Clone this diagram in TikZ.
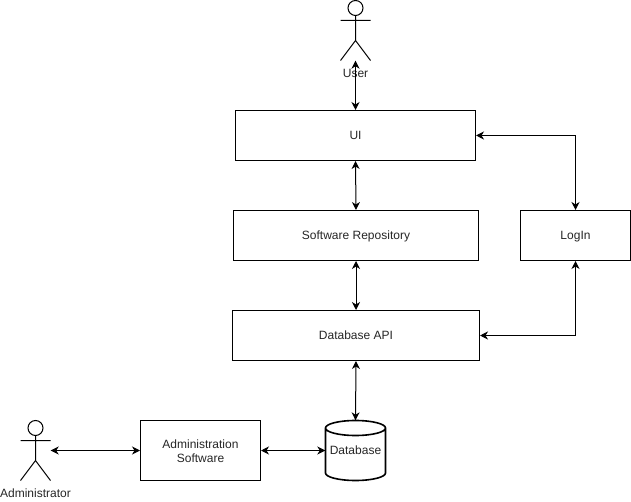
\documentclass[tikz,border=0pt]{standalone}
\usepackage{fontspec}
\setmainfont{Liberation Sans}
\usetikzlibrary{arrows.meta}
\tikzset{
  x=1pt,y=-1pt,
  boxnode/.style={draw=black,line width=1pt,rectangle,inner sep=0pt,align=center,font=\fontsize{12}{14}\selectfont,fill=white,text=black!85},
  oneline/.style={execute at begin node={\rule[-2.6pt]{0pt}{13.4pt}}},
  labelnode/.style={font=\fontsize{12}{14}\selectfont,text=black!85,inner sep=0pt},
  actorbox/.style={rectangle,minimum width=30pt,minimum height=60pt,inner sep=0pt},
  actorline/.style={draw=black,line width=1pt},
  cylline/.style={draw=black,line width=1.6pt},
  link/.style={draw=black,line width=1pt,{Stealth[length=8pt,width=8pt,inset=2.5pt]}-{Stealth[length=8pt,width=8pt,inset=2.5pt]}},
  dbnode/.style={rectangle,minimum width=60pt,minimum height=60pt,inner sep=0pt,font=\fontsize{12}{14}\selectfont,text=black!85}
}
\begin{document}
\begin{tikzpicture}
\useasboundingbox (0,0) rectangle (631,502);
\node[boxnode,oneline,minimum width=240pt,minimum height=50pt] (ui) at (355.5,135.5) {UI};
\node[boxnode,oneline,minimum width=245pt,minimum height=50pt] (repo) at (356,235.5) {Software Repository};
\node[boxnode,oneline,minimum width=247pt,minimum height=50pt] (api) at (356,335.5) {Database API};
\node[boxnode,oneline,minimum width=110pt,minimum height=50pt] (login) at (575.5,235.5) {LogIn};
\node[boxnode,minimum width=120pt,minimum height=60pt] (admin) at (200.5,450.5) {\rule{0pt}{10pt}Administration\\Software};
% database cylinder
\draw[cylline,fill=white] (325.5,428) arc[start angle=180,end angle=360,x radius=30pt,y radius=7.5pt]
  arc[start angle=0,end angle=180,x radius=30pt,y radius=7.5pt]
  -- (325.5,473) arc[start angle=180,end angle=360,x radius=30pt,y radius=7.5pt] -- (385.5,428);
\node[dbnode,oneline] (db) at (355.5,450.5) {Database};
% user actor
\node[actorbox] (user) at (355.5,30.5) {};
\draw[actorline] (355.5,8) circle (7.5pt);
\draw[actorline] (355.5,15.5) -- (355.5,40.5) (340.5,20.5) -- (370.5,20.5) (340.5,60.5) -- (355.5,40.5) -- (370.5,60.5);
\node[labelnode] (userlabel) at (355.5,73.5) {User};
% admin actor
\node[actorbox] (adm) at (35.5,450.5) {};
\draw[actorline] (35.5,428) circle (7.5pt);
\draw[actorline] (35.5,435.5) -- (35.5,460.5) (20.5,440.5) -- (50.5,440.5) (20.5,480.5) -- (35.5,460.5) -- (50.5,480.5);
\node[labelnode] (admlabel) at (35.5,493.5) {Administrator};
% connectors
\draw[link] (user.south) -- (ui.north);
\draw[link] (ui.south) -- (repo.north);
\draw[link] (repo.south) -- (api.north);
\draw[link] (api.south) -- (db.north);
\draw[link] (adm.east) -- (admin.west);
\draw[link] (admin.east) -- (db.west);
\draw[link] (ui.east) -| (login.north);
\draw[link] (login.south) |- (api.east);
\end{tikzpicture}
\end{document}
